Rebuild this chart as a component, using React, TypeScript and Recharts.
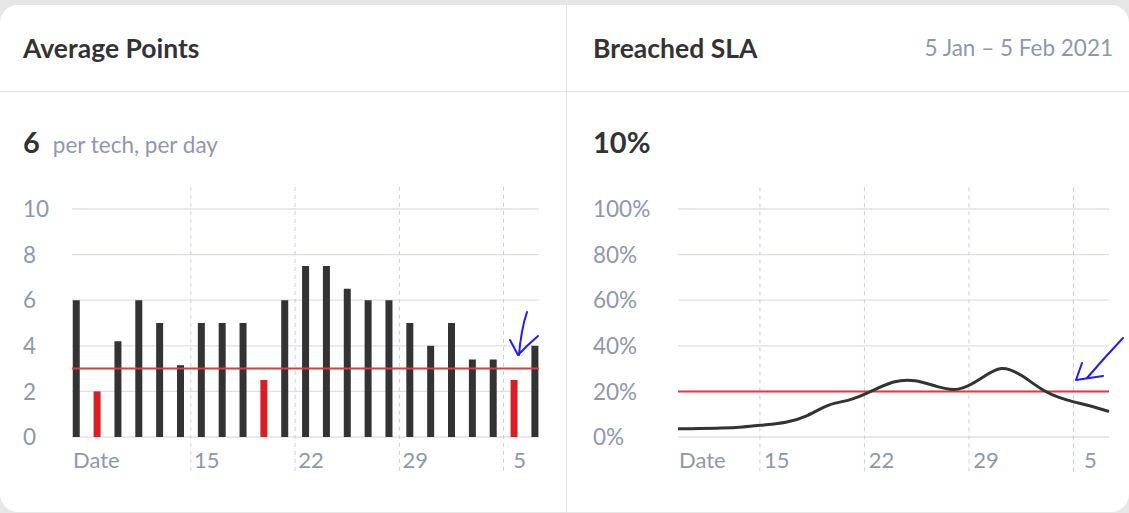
import React from 'react';
import {
  ComposedChart,
  Bar,
  Cell,
  Line,
  XAxis,
  YAxis,
  CartesianGrid,
  ReferenceLine,
} from 'recharts';

// ---------- Data ----------
const barDays = [1, 2, 3, 4, 5, 6, 7, 8, 9, 10, 11, 12, 13, 14, 15, 16, 17, 18, 19, 20, 21, 22, 23];
const avgPoints = [6, 2, 4.2, 6, 5, 3.15, 5, 5, 5, 2.5, 6, 7.5, 7.5, 6.5, 6, 6, 5, 4, 5, 3.4, 3.4, 2.5, 4];
const pointsTarget = 3;
const pointsTicks = [0, 2, 4, 6, 8, 10];
const pointsDomainX = [0.8, 23.2];
const pointsWeekLines = [6.5, 11.5, 16.5, 21.5];

const slaIndex = [0, 1, 2, 3, 4, 5, 6, 7, 8, 9, 10, 11, 12, 13, 14, 15, 16, 17, 18, 19, 20];
const slaValues = [3.6, 3.7, 3.9, 4.4, 5.3, 6.5, 9.4, 14.0, 16.4, 20.2, 24.1, 24.7, 22.2, 21.0, 25.3, 30.0, 26.6, 20.3, 16.4, 13.9, 11.2];
const slaTarget = 20;
const slaTicks = [0, 20, 40, 60, 80, 100];
const slaWeekLines = [3.8, 8.65, 13.5, 18.35];

const weekLabels = ['Date', '15', '22', '29', '5'];

const pointsData = barDays.map((d, i) => ({ day: d, value: avgPoints[i] }));
const slaData = slaIndex.map((d, i) => ({ idx: d, value: slaValues[i] }));

// ---------- Styles ----------
const FONT = 'Lato, "Noto Sans", sans-serif';
const DARK = '#333333';
const MUTED = '#8e98ad';
const GRID = '#dde0e9';
const DASH = '#c9cdd8';
const RED = '#d91f26';
const TARGET = '#e0393e';

const makeXTick = (positions: number[], labelOffset: number) => (props: any) => {
  const { x, y, payload } = props;
  const i = positions.indexOf(payload.value);
  const label = weekLabels[i] ?? '';
  const first = i === 0;
  return (
    <text
      x={first ? x + 1 : x + labelOffset}
      y={y}
      dy="0.36em"
      textAnchor={first ? 'start' : 'middle'}
      fill={MUTED}
      fontFamily={FONT}
      fontSize={22}
    >
      {label}
    </text>
  );
};

const makeYTick = (shift: number, fmt: (v: number) => string) => (props: any) => {
  const { x, y, payload } = props;
  return (
    <text x={x - shift} y={y} dy="0.36em" textAnchor="start" fill={MUTED} fontFamily={FONT} fontSize={22.5}>
      {fmt(payload.value)}
    </text>
  );
};

const abs = (s: React.CSSProperties): React.CSSProperties => ({ position: 'absolute', ...s });

export default function App() {
  const leftTicks = [pointsDomainX[0], ...pointsWeekLines];
  const rightTicks = [0, ...slaWeekLines];
  return (
    <div style={abs({ left: 0, top: 0, width: 1129, height: 513, background: '#e6e6e6', overflow: 'hidden', fontFamily: FONT })}>
      <div
        style={abs({
          left: 0,
          top: 5,
          width: 1129,
          height: 507,
          background: '#ffffff',
          borderRadius: 18,
        })}
      />
      {/* dividers */}
      <div style={abs({ left: 566, top: 5, width: 1, height: 508, background: '#e1e3ea' })} />
      <div style={abs({ left: 0, top: 91, width: 1129, height: 1, background: '#e1e3ea' })} />

      {/* headers */}
      <div style={abs({ left: 23, top: 30, lineHeight: '36px', fontSize: 26.5, fontWeight: 700, color: DARK, whiteSpace: 'nowrap' })}>Average Points</div>
      <div style={abs({ left: 593, top: 30, lineHeight: '36px', fontSize: 26.5, fontWeight: 700, color: DARK, whiteSpace: 'nowrap' })}>Breached SLA</div>
      <div style={abs({ right: 16, top: 32, lineHeight: '32px', fontSize: 22.5, color: MUTED, whiteSpace: 'nowrap' })}>
        5 Jan – 5 Feb 2021
      </div>

      <div style={abs({ left: 23, top: 124, lineHeight: '36px', whiteSpace: 'nowrap' })}>
        <span style={{ fontSize: 29, fontWeight: 700, color: DARK }}>6</span>
        <span style={{ fontSize: 22.5, color: MUTED, marginLeft: 13 }}>per tech, per day</span>
      </div>
      <div style={abs({ left: 593, top: 124, lineHeight: '36px', fontSize: 29, fontWeight: 700, color: DARK })}>10%</div>

      {/* Left chart */}
      <div style={abs({ left: 0, top: 180 })}>
        <ComposedChart width={566} height={320} data={pointsData} margin={{ top: 29, right: 27, left: 0, bottom: 0 }}>
          <CartesianGrid vertical={false} stroke={GRID} strokeWidth={1.3} />
          <XAxis
            dataKey="day"
            type="number"
            domain={pointsDomainX}
            allowDataOverflow
            ticks={leftTicks}
            interval={0}
            axisLine={false}
            tickLine={false}
            tickSize={0}
            tickMargin={23}
            height={63}
            tick={makeXTick(leftTicks, 16)}
          />
          <YAxis
            domain={[0, 10]}
            ticks={pointsTicks}
            width={72}
            axisLine={false}
            tickLine={false}
            tickSize={0}
            tickMargin={0}
            interval={0}
            tick={makeYTick(49, (v) => String(v))}
          />
          {pointsWeekLines.map((m) => (
            <ReferenceLine
              key={m}
              segment={[{ x: m, y: 10.97 }, { x: m, y: -1.55 }]}
              ifOverflow="visible"
              stroke={DASH}
              strokeDasharray="4 4"
              strokeWidth={1}
            />
          ))}
          <ReferenceLine y={pointsTarget} stroke={TARGET} strokeWidth={2} ifOverflow="visible" />
          <Bar dataKey="value" barSize={7} isAnimationActive={false}>
            {pointsData.map((d, i) => (
              <Cell key={i} fill={d.value < pointsTarget ? RED : DARK} />
            ))}
          </Bar>
        </ComposedChart>
      </div>

      {/* Right chart */}
      <div style={abs({ left: 566, top: 180 })}>
        <ComposedChart width={563} height={320} data={slaData} margin={{ top: 29, right: 20, left: 0, bottom: 0 }}>
          <CartesianGrid vertical={false} stroke={GRID} strokeWidth={1.3} />
          <XAxis
            dataKey="idx"
            type="number"
            domain={['dataMin', 'dataMax']}
            ticks={rightTicks}
            interval={0}
            axisLine={false}
            tickLine={false}
            tickSize={0}
            tickMargin={23}
            height={63}
            tick={makeXTick(rightTicks, 17)}
          />
          <YAxis
            domain={[0, 100]}
            ticks={slaTicks}
            width={112}
            axisLine={false}
            tickLine={false}
            tickSize={0}
            tickMargin={0}
            interval={0}
            tick={makeYTick(85, (v) => `${v}%`)}
          />
          {slaWeekLines.map((m) => (
            <ReferenceLine
              key={m}
              segment={[{ x: m, y: 109.5 }, { x: m, y: -15.3 }]}
              ifOverflow="visible"
              stroke={DASH}
              strokeDasharray="4 4"
              strokeWidth={1}
            />
          ))}
          <ReferenceLine y={slaTarget} stroke={TARGET} strokeWidth={2} ifOverflow="visible" />
          <Line
            dataKey="value"
            type="natural"
            stroke={DARK}
            strokeWidth={3}
            dot={false}
            activeDot={false}
            isAnimationActive={false}
          />
        </ComposedChart>
      </div>

      {/* hand-drawn annotation arrows */}
      <svg width={1129} height={513} style={abs({ left: 0, top: 0, pointerEvents: 'none' })}>
        <g fill="none" stroke="#1d1dff" strokeWidth={2} strokeLinecap="round" strokeLinejoin="round">
          <path d="M527,312 Q521,330 519,355" />
          <path d="M510,340 L518,355 L528,345 L538,336" />
          <path d="M1123,338 Q1105,357 1087,378" />
          <path d="M1082,363 L1076,380 L1103,376" />
        </g>
      </svg>
    </div>
  );
}
